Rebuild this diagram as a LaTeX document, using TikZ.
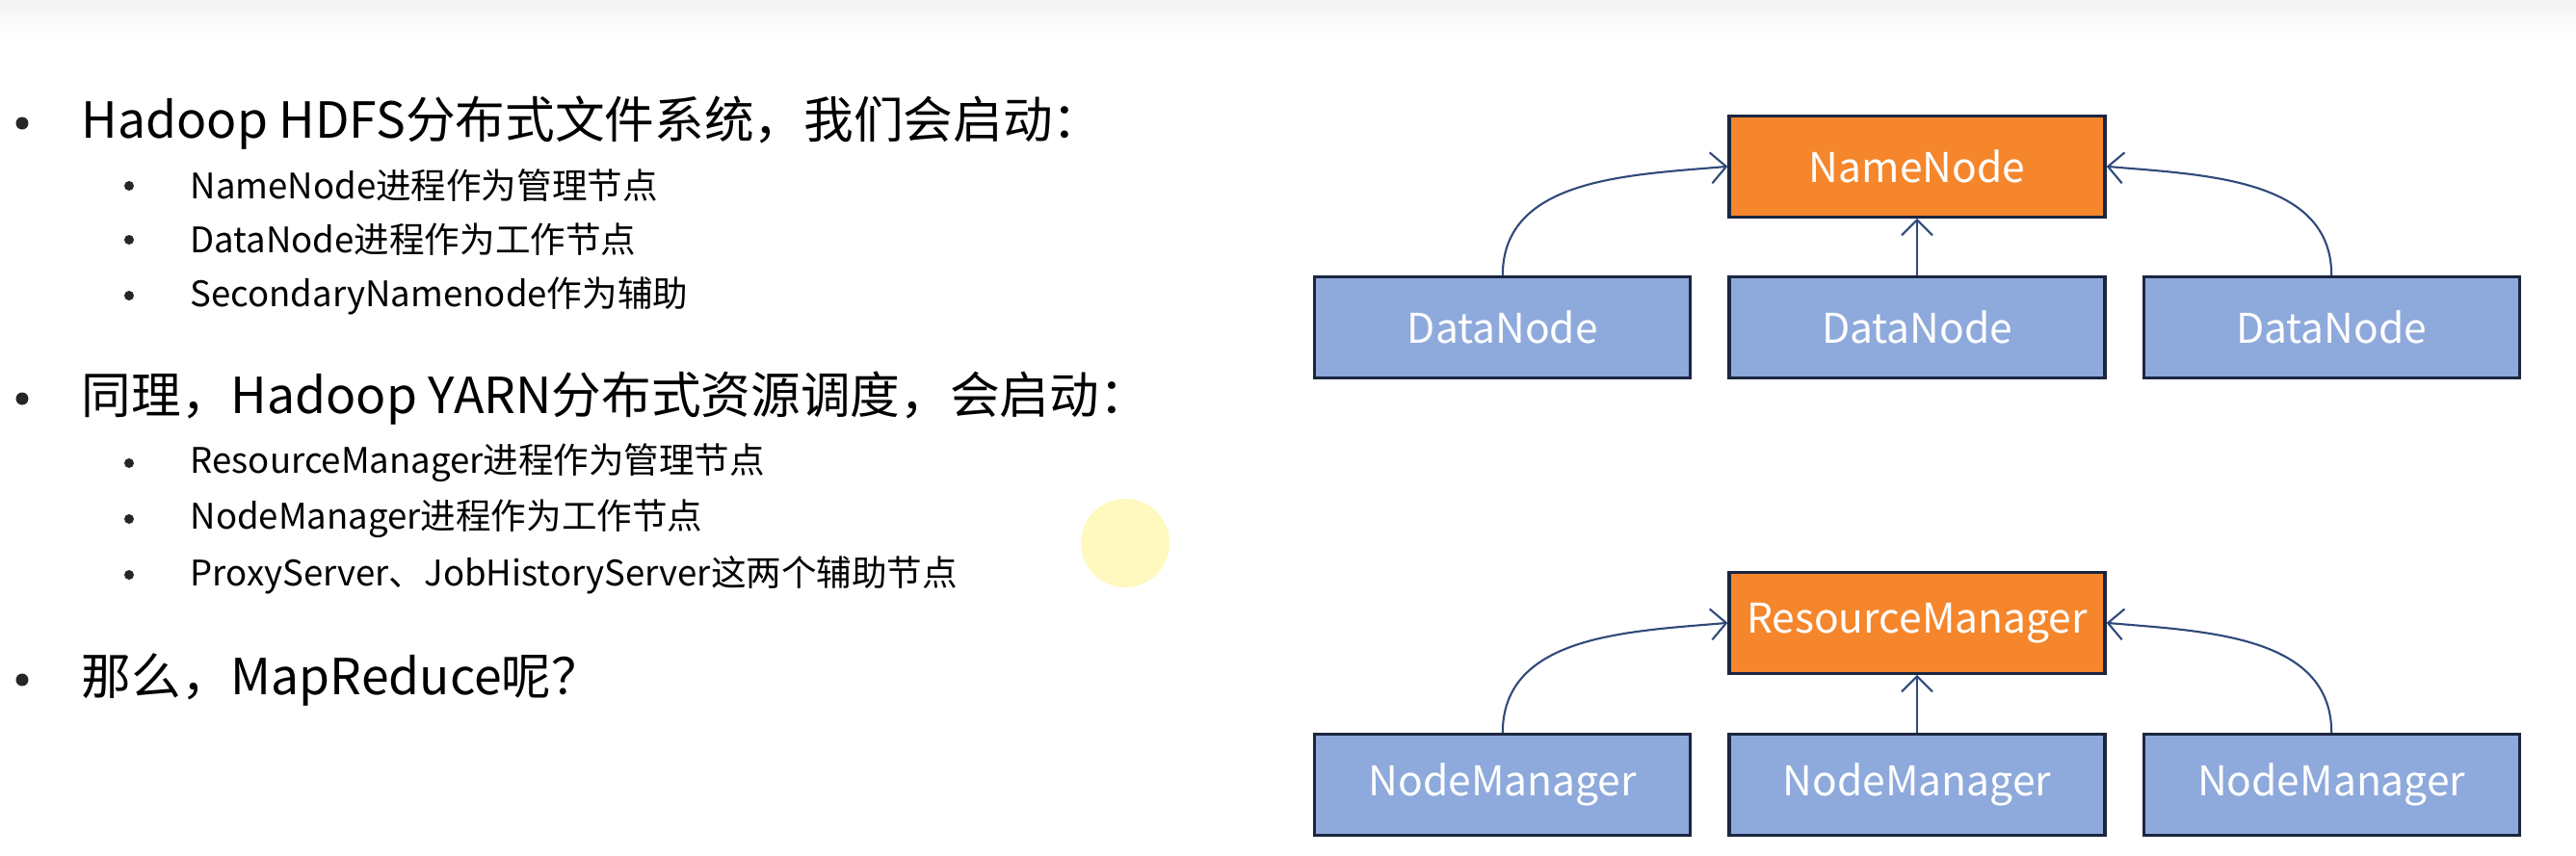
\documentclass[tikz,border=0pt]{standalone}
\usepackage{fontspec}
\setmainfont{Noto Sans CJK SC}
\usetikzlibrary{positioning,arrows.meta}
\usepackage{xcolor}

\definecolor{mgrorange}{HTML}{F5862C}
\definecolor{wrkblue}{HTML}{8EA9DB}
\definecolor{boxline}{HTML}{1B2640}
\definecolor{linkblue}{HTML}{2F4A7A}
\definecolor{spot}{HTML}{FFF8BF}

\begin{document}
\begin{tikzpicture}[
    box/.style={draw=boxline, line width=0.9pt, minimum width=3.9cm, minimum height=1.05cm,
                inner sep=0pt, text=white, font=\fontsize{12.1}{15}\selectfont},
    mgr/.style={box, fill=mgrorange},
    wrk/.style={box, fill=wrkblue},
    link/.style={draw=linkblue, line width=0.6pt, -{Straight Barb[length=1.6mm,width=3.2mm]}},
    head/.style={anchor=west, inner sep=0pt, font=\fontsize{14.7}{18}\selectfont},
    item/.style={anchor=west, inner sep=0pt, font=\fontsize{10.4}{13}\selectfont},
    bigdot/.style={circle, fill=black!85, inner sep=0pt, minimum size=0.13cm},
    smalldot/.style={circle, fill=black!85, inner sep=0pt, minimum size=0.1cm}
]
    \useasboundingbox (0,0) rectangle (26.74,8.88);
    % Slide top edge and pointer spot
    \shade[top color=gray!9, bottom color=white] (0,8.48) rectangle (26.74,8.88);
    \fill[spot] (11.68,3.24) circle (0.46);

    % HDFS list
    \node[bigdot] (b1) at (0.23,7.60) {};
    \node[head] (h1) at (0.84,7.60) {Hadoop HDFS分布式文件系统，我们会启动：};
    \node[smalldot] (b11) at (1.34,6.95) {};
    \node[item] (i11) at (1.97,6.95) {NameNode进程作为管理节点};
    \node[smalldot] (b12) at (1.34,6.39) {};
    \node[item] (i12) at (1.97,6.39) {DataNode进程作为工作节点};
    \node[smalldot] (b13) at (1.34,5.81) {};
    \node[item] (i13) at (1.97,5.81) {SecondaryNamenode作为辅助};

    % YARN list
    \node[bigdot] (b2) at (0.23,4.74) {};
    \node[head] (h2) at (0.84,4.74) {同理，Hadoop YARN分布式资源调度，会启动：};
    \node[smalldot] (b21) at (1.34,4.07) {};
    \node[item] (i21) at (1.97,4.07) {ResourceManager进程作为管理节点};
    \node[smalldot] (b22) at (1.34,3.49) {};
    \node[item] (i22) at (1.97,3.49) {NodeManager进程作为工作节点};
    \node[smalldot] (b23) at (1.34,2.91) {};
    \node[item] (i23) at (1.97,2.91) {ProxyServer、JobHistoryServer这两个辅助节点};

    % MapReduce
    \node[bigdot] (b3) at (0.23,1.82) {};
    \node[head] (h3) at (0.84,1.82) {那么，MapReduce呢？};

    % HDFS cluster
    \node[wrk] (dn2) at (19.90,5.48) {DataNode};
    \node[wrk, left=0.37cm of dn2] (dn1) {DataNode};
    \node[wrk, right=0.37cm of dn2] (dn3) {DataNode};
    \node[mgr, above=0.59cm of dn2] (nn) {NameNode};
    \draw[link] (dn1.north) to[out=90,in=185] (nn.west);
    \draw[link] (dn2.north) -- (nn.south);
    \draw[link] (dn3.north) to[out=90,in=-5] (nn.east);

    % YARN cluster
    \node[wrk] (nm2) at (19.90,0.73) {NodeManager};
    \node[wrk, left=0.37cm of nm2] (nm1) {NodeManager};
    \node[wrk, right=0.37cm of nm2] (nm3) {NodeManager};
    \node[mgr, above=0.60cm of nm2] (rm) {ResourceManager};
    \draw[link] (nm1.north) to[out=90,in=185] (rm.west);
    \draw[link] (nm2.north) -- (rm.south);
    \draw[link] (nm3.north) to[out=90,in=-5] (rm.east);
\end{tikzpicture}
\end{document}
